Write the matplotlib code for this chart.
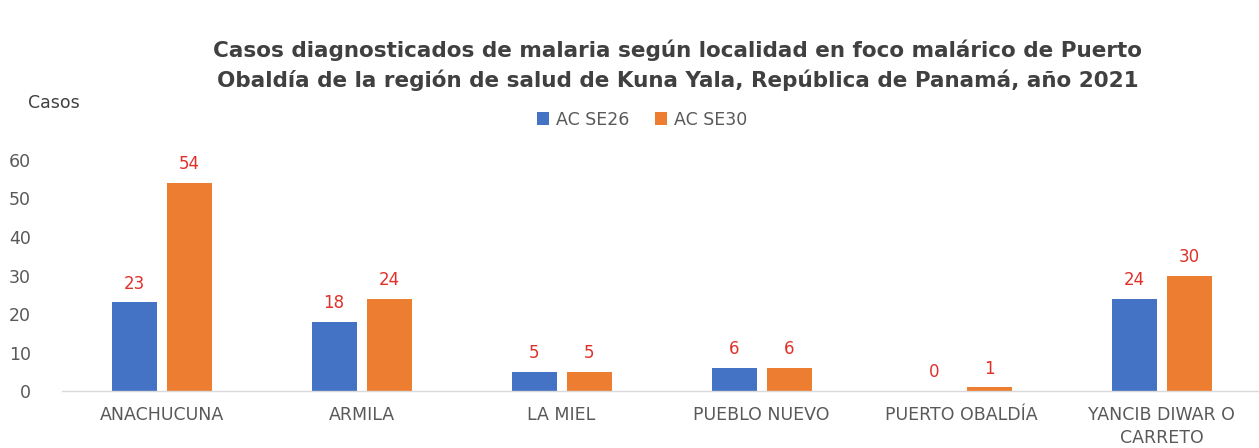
import numpy as np
import matplotlib
matplotlib.use('Agg')
import matplotlib.pyplot as plt

localidades = ['ANACHUCUNA', 'ARMILA', 'LA MIEL', 'PUEBLO NUEVO', 'PUERTO OBALDÍA',
               'YANCIB DIWAR O\nCARRETO']
se26 = [23, 18, 5, 6, 0, 24]
se30 = [54, 24, 5, 6, 1, 30]
series = ['AC SE26', 'AC SE30']
yticks = [0, 10, 20, 30, 40, 50, 60]

BLUE = '#4472c4'
ORANGE = '#ed7d31'
GRAY = '#595959'
RED = '#e0302a'

plt.rcParams['font.family'] = ['DejaVu Sans']

fig = plt.figure(figsize=(12.59, 4.48), dpi=100)
ax = fig.add_axes([0.049, 0.127, 0.953, 0.516])

x = np.arange(len(localidades))
w = 0.225
off = 0.1375
b1 = ax.bar(x - off, se26, w, color=BLUE, label=series[0])
b2 = ax.bar(x + off, se30, w, color=ORANGE, label=series[1])

for bars in (b1, b2):
    for r in bars:
        h = r.get_height()
        ax.annotate(f'{h:g}', (r.get_x() + r.get_width() / 2, h),
                    xytext=(0, 7), textcoords='offset points',
                    ha='center', va='bottom', color=RED, fontsize=12)

ax.set_xlim(-0.5, len(localidades) - 0.5)
ax.set_ylim(0, 60)
ax.set_yticks(yticks)
ax.set_xticks(x)
ax.set_xticklabels(localidades, fontsize=12.5, color=GRAY, linespacing=1.3)
ax.tick_params(axis='y', labelsize=12.5, labelcolor=GRAY, length=0, pad=22)
ax.tick_params(axis='x', length=0, pad=11)
for s in ['top', 'right', 'left']:
    ax.spines[s].set_visible(False)
ax.spines['bottom'].set_color('#d9d9d9')
ax.spines['bottom'].set_linewidth(1)

fig.text(0.538, 0.855, 'Casos diagnosticados de malaria según localidad en foco malárico de Puerto\n'
         'Obaldía de la región de salud de Kuna Yala, República de Panamá, año 2021',
         ha='center', va='center', fontsize=15.5, fontweight='bold', color='#404040',
         linespacing=1.5)
fig.text(0.022, 0.77, 'Casos', fontsize=12.5, color='#404040', va='center')

fig.legend(handles=[b1, b2], loc='center', bbox_to_anchor=(0.51, 0.733), ncol=2,
           frameon=False, fontsize=12.5, handlelength=0.7, handleheight=0.7,
           handletextpad=0.4, columnspacing=1.5, labelcolor=GRAY)

fig.savefig('out.png', dpi=100)
